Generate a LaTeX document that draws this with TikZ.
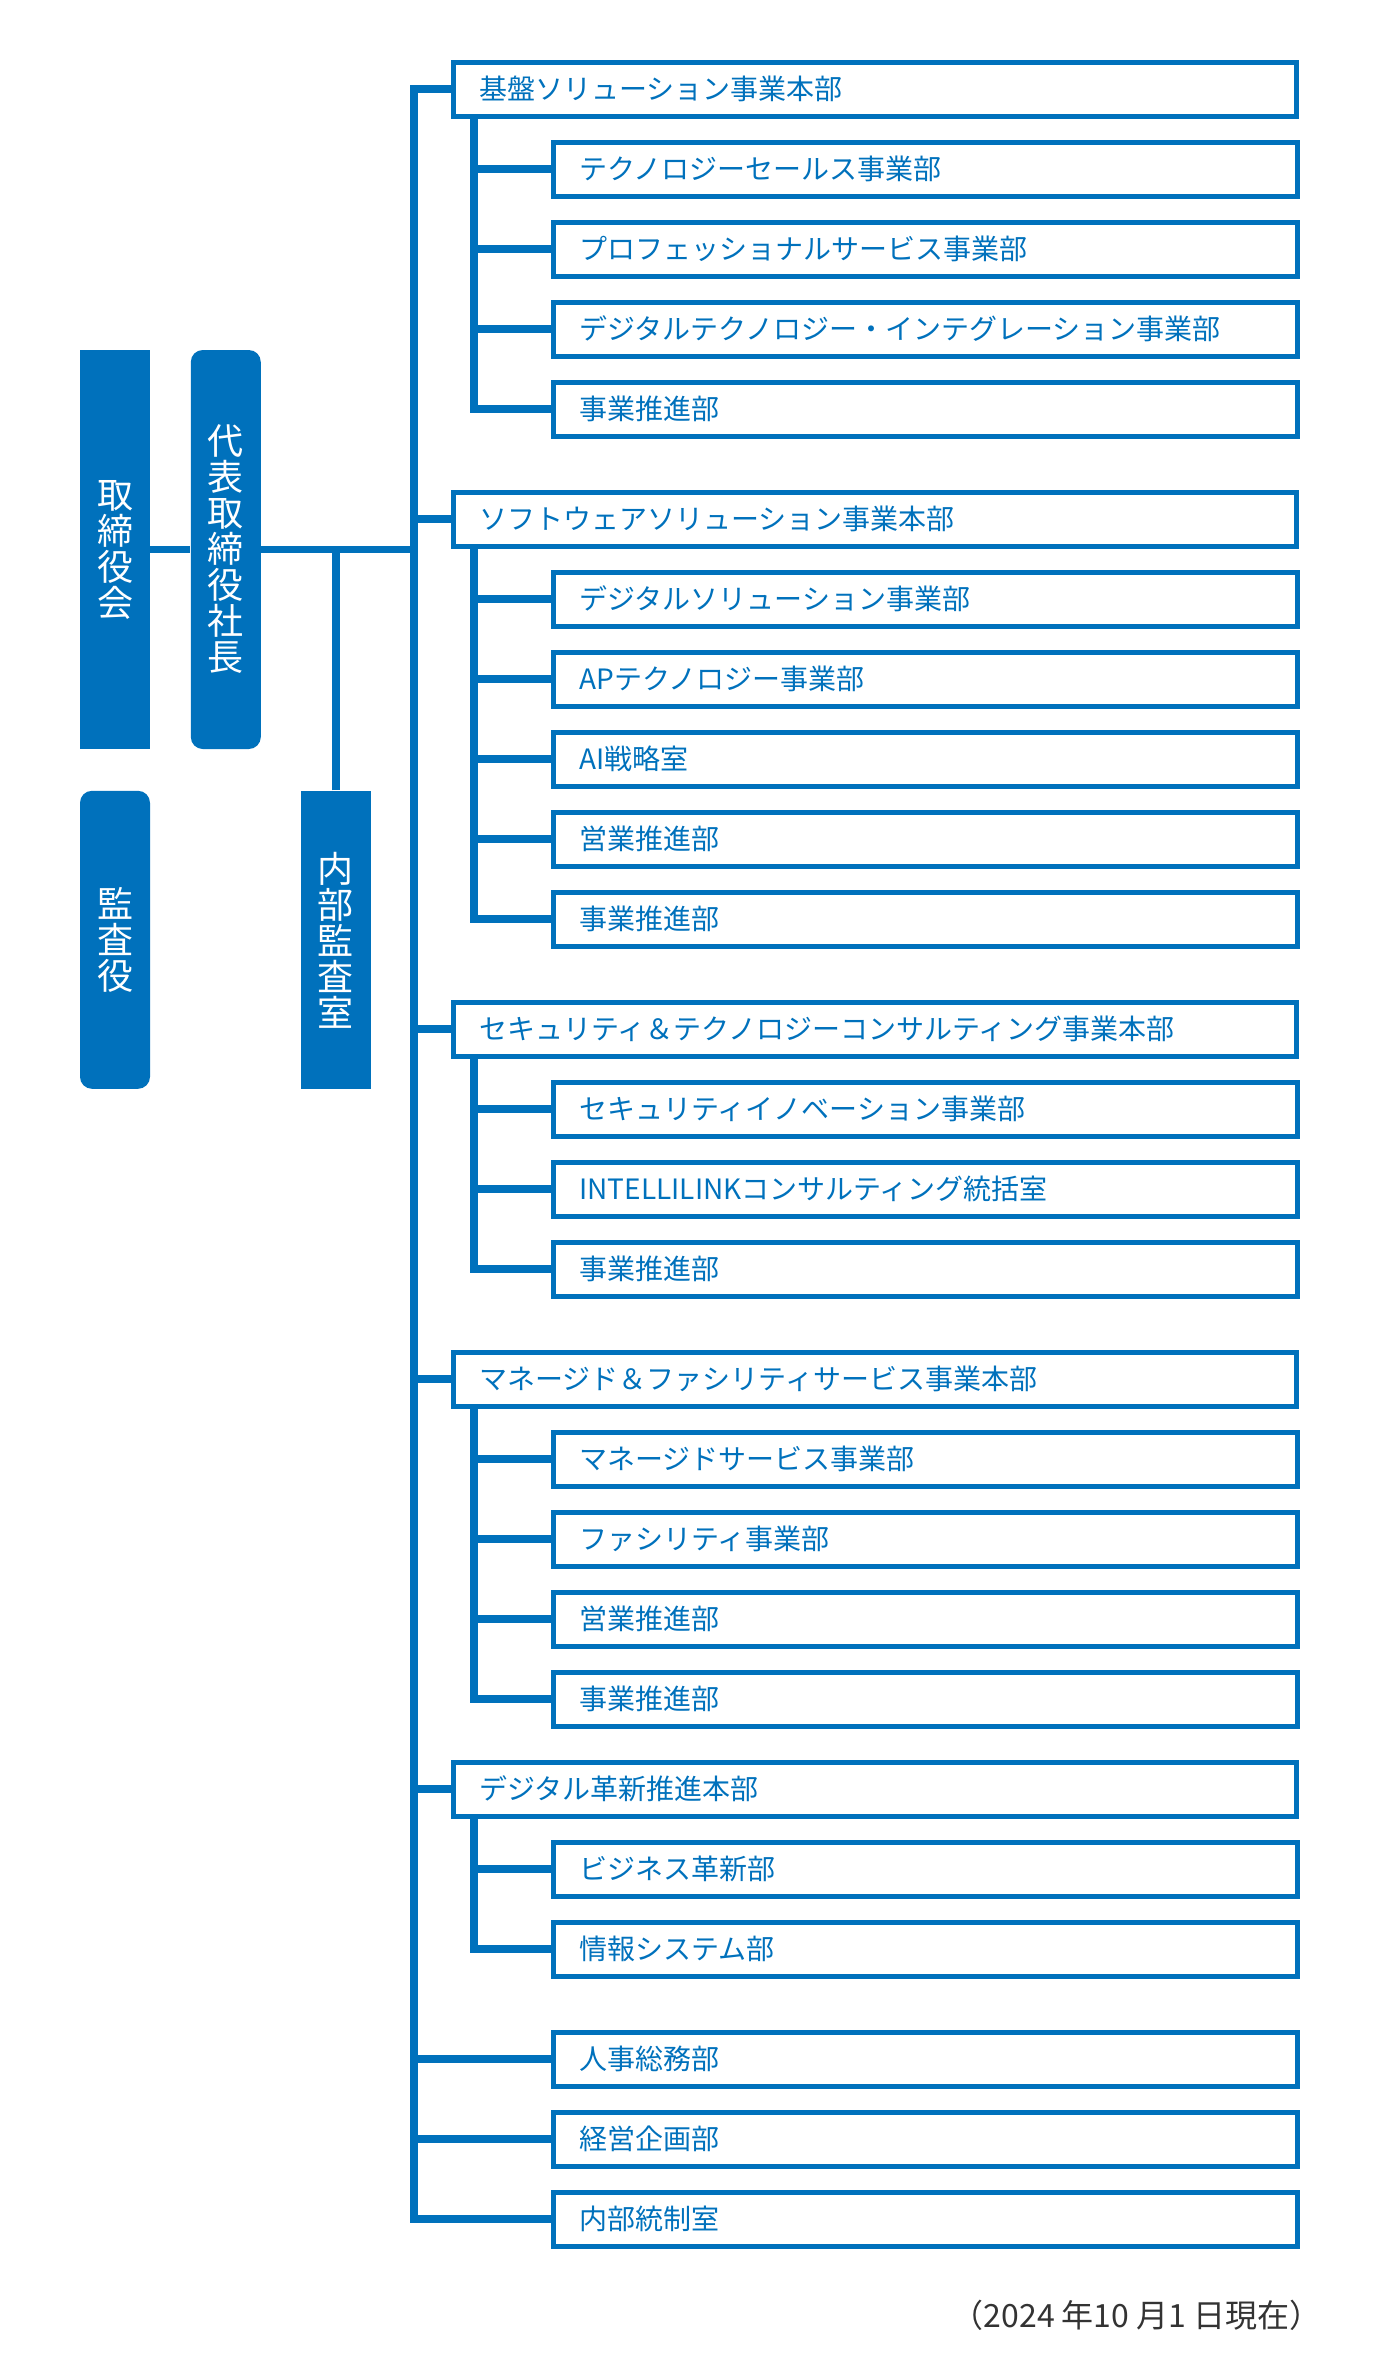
\documentclass[tikz,border=0pt]{standalone}
\usepackage{fontspec}
\setmainfont{Noto Sans CJK JP}
\usetikzlibrary{positioning}
\definecolor{nttblue}{RGB}{0,113,188}
\definecolor{notegray}{RGB}{51,51,51}

\begin{document}
\begin{tikzpicture}[
    honbu/.style={draw=nttblue, line width=2.5pt, minimum height=27pt, inner xsep=13pt, text width=395.5pt, align=left, text=nttblue, font=\fontsize{14pt}{16pt}\selectfont},
    bu/.style={honbu, text width=346pt},
    yaku/.style={fill=nttblue, text=white, minimum width=35pt, inner sep=0pt, align=center, font=\fontsize{18pt}{18pt}\selectfont},
    conn/.style={draw=nttblue, line width=3.75pt}]
    \useasboundingbox (0,0) rectangle (700pt,-1187pt);

    \node[honbu, anchor=west] (hb1) at (225.5pt,-44.5pt) {基盤ソリューション事業本部};
    \node[bu, below=10.5pt of hb1.south west, anchor=north west, xshift=50pt] (b11) {テクノロジーセールス事業部};
    \node[bu, below=10.5pt of b11] (b12) {プロフェッショナルサービス事業部};
    \node[bu, below=10.5pt of b12] (b13) {デジタルテクノロジー・インテグレーション事業部};
    \node[bu, below=10.5pt of b13] (b14) {事業推進部};

    \node[honbu, below=25.5pt of b14.south west, anchor=north west, xshift=-50pt] (hb2) {ソフトウェアソリューション事業本部};
    \node[bu, below=10.5pt of hb2.south west, anchor=north west, xshift=50pt] (b21) {デジタルソリューション事業部};
    \node[bu, below=10.5pt of b21] (b22) {APテクノロジー事業部};
    \node[bu, below=10.5pt of b22] (b23) {AI戦略室};
    \node[bu, below=10.5pt of b23] (b24) {営業推進部};
    \node[bu, below=10.5pt of b24] (b25) {事業推進部};

    \node[honbu, below=25.5pt of b25.south west, anchor=north west, xshift=-50pt] (hb3) {セキュリティ＆テクノロジーコンサルティング事業本部};
    \node[bu, below=10.5pt of hb3.south west, anchor=north west, xshift=50pt] (b31) {セキュリティイノベーション事業部};
    \node[bu, below=10.5pt of b31] (b32) {INTELLILINKコンサルティング統括室};
    \node[bu, below=10.5pt of b32] (b33) {事業推進部};

    \node[honbu, below=25.5pt of b33.south west, anchor=north west, xshift=-50pt] (hb4) {マネージド＆ファシリティサービス事業本部};
    \node[bu, below=10.5pt of hb4.south west, anchor=north west, xshift=50pt] (b41) {マネージドサービス事業部};
    \node[bu, below=10.5pt of b41] (b42) {ファシリティ事業部};
    \node[bu, below=10.5pt of b42] (b43) {営業推進部};
    \node[bu, below=10.5pt of b43] (b44) {事業推進部};

    \node[honbu, below=15.5pt of b44.south west, anchor=north west, xshift=-50pt] (hb5) {デジタル革新推進本部};
    \node[bu, below=10.5pt of hb5.south west, anchor=north west, xshift=50pt] (b51) {ビジネス革新部};
    \node[bu, below=10.5pt of b51] (b52) {情報システム部};

    \node[bu, below=25.5pt of b52] (st1) {人事総務部};
    \node[bu, below=10.5pt of st1] (st2) {経営企画部};
    \node[bu, below=10.5pt of st2] (st3) {内部統制室};

    \node[yaku, minimum height=199.5pt] (tori) at (57.5pt,-274.75pt) {取\\締\\役\\会};
    \node[yaku, minimum height=199.5pt, rounded corners=6pt, right=20pt of tori] (shacho) {代\\表\\取\\締\\役\\社\\長};
    \node[yaku, minimum height=149pt, rounded corners=6pt, below=20.5pt of tori] (kansa) {監\\査\\役};
    \node[yaku, minimum height=149pt, right=75pt of kansa] (naibu) {内\\部\\監\\査\\室};

    \node[anchor=east, inner sep=0pt, text=notegray, font=\fontsize{16pt}{18pt}\selectfont] (note) at (661pt,-1157.5pt) {（2024 年10 月1 日現在）};

    \coordinate[left=18.5pt of hb1.west] (trunk);
    \coordinate (sub) at ([xshift=11.5pt]hb1.south west);

    \draw[conn] (hb1.west) -- (trunk) -- (trunk |- st3.west) -- (st3.west);
    \foreach \n in {hb2,hb3,hb4,hb5,st1,st2}
        \draw[conn] (trunk |- \n.west) -- (\n.west);

    \foreach \h/\last in {hb1/b14,hb2/b25,hb3/b33,hb4/b44,hb5/b52}
        \draw[conn] (sub |- \h.south) -- (sub |- \last.west) -- (\last.west);
    \foreach \n in {b11,b12,b13,b21,b22,b23,b24,b31,b32,b41,b42,b43,b51}
        \draw[conn] (sub |- \n.west) -- (\n.west);

    \draw[conn] (tori.east) -- (shacho.west);
    \draw[conn] (shacho.east) -- (shacho.east -| trunk);
    \draw[conn] (naibu.north) -- (naibu.north |- shacho.east);
\end{tikzpicture}
\end{document}
